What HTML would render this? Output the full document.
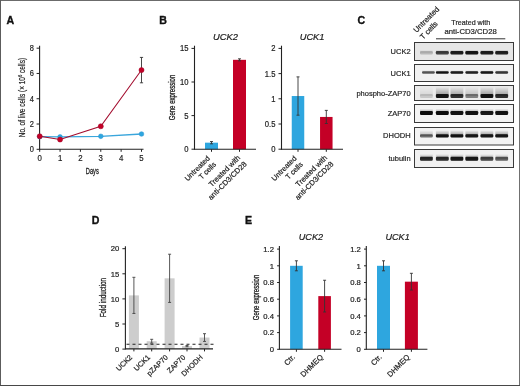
<!DOCTYPE html>
<html><head><meta charset="utf-8"><style>
html,body{margin:0;padding:0;background:#fff;}
body{width:520px;height:386px;overflow:hidden;}
svg{display:block;will-change:transform;}
text{font-family:"Liberation Sans", sans-serif;stroke:#222;stroke-width:0.2px;}
</style></head><body>
<svg width="520" height="386" viewBox="0 0 520 386">
<defs><linearGradient id="smg" x1="0" y1="0" x2="0" y2="1"><stop offset="0" stop-color="#000" stop-opacity="0"/><stop offset="1" stop-color="#000" stop-opacity="1"/></linearGradient><filter id="blur" x="-20%" y="-50%" width="140%" height="200%"><feGaussianBlur stdDeviation="0.6"/></filter><filter id="blur2" x="-20%" y="-50%" width="140%" height="200%"><feGaussianBlur stdDeviation="1"/></filter></defs>
<rect x="0" y="0" width="520" height="386" fill="#fff"/>
<text x="6.50" y="23.80" font-size="10.6" text-anchor="start" fill="#111" font-weight="bold" style="stroke:#111;stroke-width:0.35px">A</text>
<text x="159.20" y="23.70" font-size="10.6" text-anchor="start" fill="#111" font-weight="bold" style="stroke:#111;stroke-width:0.35px">B</text>
<text x="357.50" y="23.70" font-size="10.6" text-anchor="start" fill="#111" font-weight="bold" style="stroke:#111;stroke-width:0.35px">C</text>
<text x="91.70" y="224.00" font-size="10.6" text-anchor="start" fill="#111" font-weight="bold" style="stroke:#111;stroke-width:0.35px">D</text>
<text x="245.00" y="223.90" font-size="10.6" text-anchor="start" fill="#111" font-weight="bold" style="stroke:#111;stroke-width:0.35px">E</text>
<line x1="39.60" y1="45.70" x2="39.60" y2="149.80" stroke="#222" stroke-width="1.1" />
<line x1="36.60" y1="149.30" x2="39.60" y2="149.30" stroke="#222" stroke-width="1" />
<text x="0.00" y="0.00" font-size="8.9" text-anchor="end" fill="#222" transform="translate(33.90,152.15) scale(0.84,1)" >0</text>
<line x1="36.60" y1="124.02" x2="39.60" y2="124.02" stroke="#222" stroke-width="1" />
<text x="0.00" y="0.00" font-size="8.9" text-anchor="end" fill="#222" transform="translate(33.90,126.87) scale(0.84,1)" >2</text>
<line x1="36.60" y1="98.74" x2="39.60" y2="98.74" stroke="#222" stroke-width="1" />
<text x="0.00" y="0.00" font-size="8.9" text-anchor="end" fill="#222" transform="translate(33.90,101.59) scale(0.84,1)" >4</text>
<line x1="36.60" y1="73.46" x2="39.60" y2="73.46" stroke="#222" stroke-width="1" />
<text x="0.00" y="0.00" font-size="8.9" text-anchor="end" fill="#222" transform="translate(33.90,76.31) scale(0.84,1)" >6</text>
<line x1="36.60" y1="48.18" x2="39.60" y2="48.18" stroke="#222" stroke-width="1" />
<text x="0.00" y="0.00" font-size="8.9" text-anchor="end" fill="#222" transform="translate(33.90,51.03) scale(0.84,1)" >8</text>
<line x1="39.60" y1="149.30" x2="143.50" y2="149.30" stroke="#222" stroke-width="1.1" />
<line x1="39.70" y1="149.30" x2="39.70" y2="151.80" stroke="#222" stroke-width="1" />
<text x="0.00" y="0.00" font-size="8.9" text-anchor="middle" fill="#222" transform="translate(39.70,161.40) scale(0.88,1)" >0</text>
<line x1="60.06" y1="149.30" x2="60.06" y2="151.80" stroke="#222" stroke-width="1" />
<text x="0.00" y="0.00" font-size="8.9" text-anchor="middle" fill="#222" transform="translate(60.06,161.40) scale(0.88,1)" >1</text>
<line x1="80.42" y1="149.30" x2="80.42" y2="151.80" stroke="#222" stroke-width="1" />
<text x="0.00" y="0.00" font-size="8.9" text-anchor="middle" fill="#222" transform="translate(80.42,161.40) scale(0.88,1)" >2</text>
<line x1="100.78" y1="149.30" x2="100.78" y2="151.80" stroke="#222" stroke-width="1" />
<text x="0.00" y="0.00" font-size="8.9" text-anchor="middle" fill="#222" transform="translate(100.78,161.40) scale(0.88,1)" >3</text>
<line x1="121.14" y1="149.30" x2="121.14" y2="151.80" stroke="#222" stroke-width="1" />
<text x="0.00" y="0.00" font-size="8.9" text-anchor="middle" fill="#222" transform="translate(121.14,161.40) scale(0.88,1)" >4</text>
<line x1="141.50" y1="149.30" x2="141.50" y2="151.80" stroke="#222" stroke-width="1" />
<text x="0.00" y="0.00" font-size="8.9" text-anchor="middle" fill="#222" transform="translate(141.50,161.40) scale(0.88,1)" >5</text>
<text x="92.30" y="174.00" font-size="8.6" text-anchor="middle" fill="#222" textLength="13.0" lengthAdjust="spacingAndGlyphs" style="stroke-width:0.3px">Days</text>
<text x="0.00" y="0.00" font-size="8.2" text-anchor="middle" fill="#222" transform="translate(24.6,97.6) rotate(-90) scale(0.79,1)" >No. of live cells (× 10<tspan font-size="5.2" dy="-3">6</tspan><tspan dy="3"> cells)</tspan></text>
<polyline fill="none" stroke="#3aa6dc" stroke-width="1.3" points="39.70,136.66 60.06,136.91 100.78,136.28 141.50,134.01"/>
<circle cx="39.70" cy="136.66" r="2.35" fill="#2ea6df" stroke="#2a95d0" stroke-width="0.5"/>
<circle cx="60.06" cy="136.91" r="2.35" fill="#2ea6df" stroke="#2a95d0" stroke-width="0.5"/>
<circle cx="100.78" cy="136.28" r="2.35" fill="#2ea6df" stroke="#2a95d0" stroke-width="0.5"/>
<circle cx="141.50" cy="134.01" r="2.35" fill="#2ea6df" stroke="#2a95d0" stroke-width="0.5"/>
<line x1="141.50" y1="57.41" x2="141.50" y2="82.81" stroke="#333" stroke-width="0.9" />
<line x1="139.90" y1="57.41" x2="143.10" y2="57.41" stroke="#333" stroke-width="0.9" />
<line x1="139.90" y1="82.81" x2="143.10" y2="82.81" stroke="#333" stroke-width="0.9" />
<polyline fill="none" stroke="#a30c2e" stroke-width="1.05" points="39.70,136.28 60.06,139.57 100.78,126.30 141.50,70.05"/>
<circle cx="39.70" cy="136.28" r="2.55" fill="#c40026" stroke="#a30c2e" stroke-width="0.5"/>
<circle cx="60.06" cy="139.57" r="2.55" fill="#c40026" stroke="#a30c2e" stroke-width="0.5"/>
<circle cx="100.78" cy="126.30" r="2.55" fill="#c40026" stroke="#a30c2e" stroke-width="0.5"/>
<circle cx="141.50" cy="70.05" r="2.55" fill="#c40026" stroke="#a30c2e" stroke-width="0.5"/>
<rect x="205.00" y="142.68" width="13.00" height="6.62" fill="#2ea6df" />
<line x1="211.50" y1="141.54" x2="211.50" y2="143.82" stroke="#333" stroke-width="0.9" />
<line x1="210.00" y1="141.54" x2="213.00" y2="141.54" stroke="#333" stroke-width="0.9" />
<line x1="210.00" y1="143.82" x2="213.00" y2="143.82" stroke="#333" stroke-width="0.9" />
<line x1="211.50" y1="149.30" x2="211.50" y2="151.80" stroke="#222" stroke-width="1" />
<rect x="233.00" y="59.82" width="13.00" height="89.48" fill="#c40026" />
<line x1="239.50" y1="58.82" x2="239.50" y2="60.83" stroke="#333" stroke-width="0.9" />
<line x1="238.00" y1="58.82" x2="241.00" y2="58.82" stroke="#333" stroke-width="0.9" />
<line x1="238.00" y1="60.83" x2="241.00" y2="60.83" stroke="#333" stroke-width="0.9" />
<line x1="239.50" y1="149.30" x2="239.50" y2="151.80" stroke="#222" stroke-width="1" />
<line x1="194.50" y1="45.70" x2="194.50" y2="149.80" stroke="#222" stroke-width="1.1" />
<line x1="191.50" y1="149.20" x2="194.50" y2="149.20" stroke="#222" stroke-width="1" />
<text x="0.00" y="0.00" font-size="8.5" text-anchor="end" fill="#222" transform="translate(188.60,152.26) scale(0.9,1)" >0</text>
<line x1="191.50" y1="115.60" x2="194.50" y2="115.60" stroke="#222" stroke-width="1" />
<text x="0.00" y="0.00" font-size="8.5" text-anchor="end" fill="#222" transform="translate(188.60,118.66) scale(0.9,1)" >5</text>
<line x1="191.50" y1="82.00" x2="194.50" y2="82.00" stroke="#222" stroke-width="1" />
<text x="0.00" y="0.00" font-size="8.5" text-anchor="end" fill="#222" transform="translate(188.60,85.06) scale(0.9,1)" >10</text>
<line x1="191.50" y1="48.40" x2="194.50" y2="48.40" stroke="#222" stroke-width="1" />
<text x="0.00" y="0.00" font-size="8.5" text-anchor="end" fill="#222" transform="translate(188.60,51.46) scale(0.9,1)" >15</text>
<line x1="194.50" y1="149.30" x2="256.00" y2="149.30" stroke="#222" stroke-width="1.1" />
<text x="225.50" y="40.10" font-size="8.5" text-anchor="middle" fill="#222" textLength="25.0" lengthAdjust="spacingAndGlyphs" font-style="italic" >UCK2</text>
<rect x="291.75" y="96.03" width="12.50" height="53.27" fill="#2ea6df" />
<line x1="298.00" y1="76.88" x2="298.00" y2="115.18" stroke="#333" stroke-width="0.9" />
<line x1="296.50" y1="76.88" x2="299.50" y2="76.88" stroke="#333" stroke-width="0.9" />
<line x1="296.50" y1="115.18" x2="299.50" y2="115.18" stroke="#333" stroke-width="0.9" />
<line x1="298.00" y1="149.30" x2="298.00" y2="151.80" stroke="#222" stroke-width="1" />
<rect x="320.05" y="116.94" width="12.50" height="32.36" fill="#c40026" />
<line x1="326.30" y1="110.39" x2="326.30" y2="123.50" stroke="#333" stroke-width="0.9" />
<line x1="324.80" y1="110.39" x2="327.80" y2="110.39" stroke="#333" stroke-width="0.9" />
<line x1="324.80" y1="123.50" x2="327.80" y2="123.50" stroke="#333" stroke-width="0.9" />
<line x1="326.30" y1="149.30" x2="326.30" y2="151.80" stroke="#222" stroke-width="1" />
<line x1="281.50" y1="45.70" x2="281.50" y2="149.80" stroke="#222" stroke-width="1.1" />
<line x1="278.50" y1="149.20" x2="281.50" y2="149.20" stroke="#222" stroke-width="1" />
<text x="0.00" y="0.00" font-size="8.5" text-anchor="end" fill="#222" transform="translate(275.40,152.26) scale(0.9,1)" >0</text>
<line x1="278.50" y1="124.00" x2="281.50" y2="124.00" stroke="#222" stroke-width="1" />
<text x="0.00" y="0.00" font-size="8.5" text-anchor="end" fill="#222" transform="translate(275.40,127.06) scale(0.9,1)" >0.5</text>
<line x1="278.50" y1="98.80" x2="281.50" y2="98.80" stroke="#222" stroke-width="1" />
<text x="0.00" y="0.00" font-size="8.5" text-anchor="end" fill="#222" transform="translate(275.40,101.86) scale(0.9,1)" >1</text>
<line x1="278.50" y1="73.60" x2="281.50" y2="73.60" stroke="#222" stroke-width="1" />
<text x="0.00" y="0.00" font-size="8.5" text-anchor="end" fill="#222" transform="translate(275.40,76.66) scale(0.9,1)" >1.5</text>
<line x1="278.50" y1="48.40" x2="281.50" y2="48.40" stroke="#222" stroke-width="1" />
<text x="0.00" y="0.00" font-size="8.5" text-anchor="end" fill="#222" transform="translate(275.40,51.46) scale(0.9,1)" >2</text>
<line x1="281.50" y1="149.30" x2="343.00" y2="149.30" stroke="#222" stroke-width="1.1" />
<text x="312.10" y="40.10" font-size="8.5" text-anchor="middle" fill="#222" textLength="24.8" lengthAdjust="spacingAndGlyphs" font-style="italic" >UCK1</text>
<text x="0.00" y="0.00" font-size="8.8" text-anchor="middle" fill="#222" textLength="45.6" lengthAdjust="spacingAndGlyphs" transform="translate(174.7,97.5) rotate(-90)" style="stroke-width:0.3px">Gene expression</text>
<text transform="translate(210.30,158.80) rotate(-45)" font-size="7.3" text-anchor="end" fill="#222"><tspan x="0" y="0.00">Untreated</tspan><tspan x="0" y="8.80">T cells</tspan></text>
<text transform="translate(297.10,158.80) rotate(-45)" font-size="7.3" text-anchor="end" fill="#222"><tspan x="0" y="0.00">Untreated</tspan><tspan x="0" y="8.80">T cells</tspan></text>
<text transform="translate(240.80,158.20) rotate(-45)" font-size="7.5" text-anchor="end" fill="#222"><tspan x="0" y="0.00">Treated with</tspan><tspan x="0" y="8.90">anti-CD3/CD28</tspan></text>
<text transform="translate(327.60,158.20) rotate(-45)" font-size="7.5" text-anchor="end" fill="#222"><tspan x="0" y="0.00">Treated with</tspan><tspan x="0" y="8.90">anti-CD3/CD28</tspan></text>
<rect x="414.50" y="42.50" width="99.00" height="18.00" fill="#e6e6e6" stroke="#3a3a3a" stroke-width="1"/>
<text x="410.60" y="53.80" font-size="7.5" text-anchor="end" fill="#2a2a2a" >UCK2</text>
<rect x="420.00" y="49.50" width="12.8" height="3.30" fill="url(#smg)" fill-opacity="0.10" filter="url(#blur)"/>
<rect x="420.00" y="51.10" width="12.8" height="3.40" rx="1.2" fill="#0a0a0a" fill-opacity="0.20" filter="url(#blur)"/>
<rect x="435.90" y="49.50" width="12.8" height="3.30" fill="url(#smg)" fill-opacity="0.27" filter="url(#blur)"/>
<rect x="435.90" y="51.10" width="12.8" height="3.40" rx="1.2" fill="#0a0a0a" fill-opacity="0.76" filter="url(#blur)"/>
<rect x="450.50" y="49.50" width="12.8" height="3.30" fill="url(#smg)" fill-opacity="0.32" filter="url(#blur)"/>
<rect x="450.50" y="51.10" width="12.8" height="3.40" rx="1.2" fill="#0a0a0a" fill-opacity="0.93" filter="url(#blur)"/>
<rect x="465.40" y="49.50" width="12.8" height="3.30" fill="url(#smg)" fill-opacity="0.33" filter="url(#blur)"/>
<rect x="465.40" y="51.10" width="12.8" height="3.40" rx="1.2" fill="#0a0a0a" fill-opacity="0.97" filter="url(#blur)"/>
<rect x="480.50" y="49.50" width="12.8" height="3.30" fill="url(#smg)" fill-opacity="0.32" filter="url(#blur)"/>
<rect x="480.50" y="51.10" width="12.8" height="3.40" rx="1.2" fill="#0a0a0a" fill-opacity="0.92" filter="url(#blur)"/>
<rect x="495.30" y="49.50" width="12.8" height="3.30" fill="url(#smg)" fill-opacity="0.31" filter="url(#blur)"/>
<rect x="495.30" y="51.10" width="12.8" height="3.40" rx="1.2" fill="#0a0a0a" fill-opacity="0.90" filter="url(#blur)"/>
<rect x="414.50" y="64.50" width="99.00" height="17.00" fill="#f1f1f1" stroke="#3a3a3a" stroke-width="1"/>
<text x="410.60" y="75.70" font-size="7.5" text-anchor="end" fill="#2a2a2a" >UCK1</text>
<rect x="422.00" y="70.00" width="12.8" height="2.50" fill="url(#smg)" fill-opacity="0.16" filter="url(#blur)"/>
<rect x="422.00" y="71.25" width="12.8" height="2.50" rx="1.2" fill="#0a0a0a" fill-opacity="0.62" filter="url(#blur)"/>
<rect x="435.90" y="70.00" width="12.8" height="2.50" fill="url(#smg)" fill-opacity="0.23" filter="url(#blur)"/>
<rect x="435.90" y="71.25" width="12.8" height="2.50" rx="1.2" fill="#0a0a0a" fill-opacity="0.97" filter="url(#blur)"/>
<rect x="450.50" y="70.00" width="12.8" height="2.50" fill="url(#smg)" fill-opacity="0.23" filter="url(#blur)"/>
<rect x="450.50" y="71.25" width="12.8" height="2.50" rx="1.2" fill="#0a0a0a" fill-opacity="0.93" filter="url(#blur)"/>
<rect x="465.40" y="70.00" width="12.8" height="2.50" fill="url(#smg)" fill-opacity="0.22" filter="url(#blur)"/>
<rect x="465.40" y="71.25" width="12.8" height="2.50" rx="1.2" fill="#0a0a0a" fill-opacity="0.90" filter="url(#blur)"/>
<rect x="480.50" y="70.00" width="12.8" height="2.50" fill="url(#smg)" fill-opacity="0.23" filter="url(#blur)"/>
<rect x="480.50" y="71.25" width="12.8" height="2.50" rx="1.2" fill="#0a0a0a" fill-opacity="0.95" filter="url(#blur)"/>
<rect x="495.30" y="70.00" width="12.8" height="2.50" fill="url(#smg)" fill-opacity="0.20" filter="url(#blur)"/>
<rect x="495.30" y="71.25" width="12.8" height="2.50" rx="1.2" fill="#0a0a0a" fill-opacity="0.80" filter="url(#blur)"/>
<rect x="414.50" y="85.50" width="99.00" height="15.00" fill="#ebebeb" stroke="#3a3a3a" stroke-width="1"/>
<text x="410.60" y="95.60" font-size="7.5" text-anchor="end" fill="#2a2a2a" >phospho-ZAP70</text>
<rect x="420.00" y="86.80" width="12.8" height="9.10" fill="url(#smg)" fill-opacity="0.09" filter="url(#blur)"/>
<rect x="420.00" y="93.90" width="12.8" height="4.00" rx="1.2" fill="#0a0a0a" fill-opacity="0.15" filter="url(#blur)"/>
<rect x="435.90" y="86.80" width="12.8" height="9.10" fill="url(#smg)" fill-opacity="0.38" filter="url(#blur)"/>
<rect x="435.90" y="93.90" width="12.8" height="4.00" rx="1.2" fill="#0a0a0a" fill-opacity="0.97" filter="url(#blur)"/>
<rect x="450.50" y="86.80" width="12.8" height="9.10" fill="url(#smg)" fill-opacity="0.34" filter="url(#blur)"/>
<rect x="450.50" y="93.90" width="12.8" height="4.00" rx="1.2" fill="#0a0a0a" fill-opacity="0.85" filter="url(#blur)"/>
<rect x="465.40" y="86.80" width="12.8" height="9.10" fill="url(#smg)" fill-opacity="0.20" filter="url(#blur)"/>
<rect x="465.40" y="93.90" width="12.8" height="4.00" rx="1.2" fill="#0a0a0a" fill-opacity="0.45" filter="url(#blur)"/>
<rect x="480.50" y="86.80" width="12.8" height="9.10" fill="url(#smg)" fill-opacity="0.38" filter="url(#blur)"/>
<rect x="480.50" y="93.90" width="12.8" height="4.00" rx="1.2" fill="#0a0a0a" fill-opacity="0.98" filter="url(#blur)"/>
<rect x="495.30" y="86.80" width="12.8" height="9.10" fill="url(#smg)" fill-opacity="0.34" filter="url(#blur)"/>
<rect x="495.30" y="93.90" width="12.8" height="4.00" rx="1.2" fill="#0a0a0a" fill-opacity="0.85" filter="url(#blur)"/>
<rect x="414.50" y="104.50" width="99.00" height="18.00" fill="#f4f4f4" stroke="#3a3a3a" stroke-width="1"/>
<text x="410.60" y="116.30" font-size="7.5" text-anchor="end" fill="#2a2a2a" >ZAP70</text>
<rect x="420.00" y="108.60" width="12.8" height="4.40" fill="url(#smg)" fill-opacity="0.39" filter="url(#blur)"/>
<rect x="420.00" y="111.10" width="12.8" height="3.80" rx="1.2" fill="#0a0a0a" fill-opacity="1.00" filter="url(#blur)"/>
<rect x="435.90" y="108.60" width="12.8" height="4.40" fill="url(#smg)" fill-opacity="0.39" filter="url(#blur)"/>
<rect x="435.90" y="111.10" width="12.8" height="3.80" rx="1.2" fill="#0a0a0a" fill-opacity="1.00" filter="url(#blur)"/>
<rect x="450.50" y="108.60" width="12.8" height="4.40" fill="url(#smg)" fill-opacity="0.38" filter="url(#blur)"/>
<rect x="450.50" y="111.10" width="12.8" height="3.80" rx="1.2" fill="#0a0a0a" fill-opacity="0.97" filter="url(#blur)"/>
<rect x="465.40" y="108.60" width="12.8" height="4.40" fill="url(#smg)" fill-opacity="0.38" filter="url(#blur)"/>
<rect x="465.40" y="111.10" width="12.8" height="3.80" rx="1.2" fill="#0a0a0a" fill-opacity="0.97" filter="url(#blur)"/>
<rect x="480.50" y="108.60" width="12.8" height="4.40" fill="url(#smg)" fill-opacity="0.37" filter="url(#blur)"/>
<rect x="480.50" y="111.10" width="12.8" height="3.80" rx="1.2" fill="#0a0a0a" fill-opacity="0.95" filter="url(#blur)"/>
<rect x="495.30" y="108.60" width="12.8" height="4.40" fill="url(#smg)" fill-opacity="0.38" filter="url(#blur)"/>
<rect x="495.30" y="111.10" width="12.8" height="3.80" rx="1.2" fill="#0a0a0a" fill-opacity="0.97" filter="url(#blur)"/>
<rect x="414.50" y="127.50" width="99.00" height="17.50" fill="#f3f3f3" stroke="#3a3a3a" stroke-width="1"/>
<text x="410.60" y="138.40" font-size="7.5" text-anchor="end" fill="#2a2a2a" >DHODH</text>
<rect x="420.00" y="130.20" width="12.8" height="5.70" fill="url(#smg)" fill-opacity="0.26" filter="url(#blur)"/>
<rect x="420.00" y="134.25" width="12.8" height="3.30" rx="1.2" fill="#0a0a0a" fill-opacity="0.55" filter="url(#blur)"/>
<rect x="435.90" y="130.20" width="12.8" height="5.70" fill="url(#smg)" fill-opacity="0.43" filter="url(#blur)"/>
<rect x="435.90" y="134.25" width="12.8" height="3.30" rx="1.2" fill="#0a0a0a" fill-opacity="0.97" filter="url(#blur)"/>
<rect x="450.50" y="130.20" width="12.8" height="5.70" fill="url(#smg)" fill-opacity="0.43" filter="url(#blur)"/>
<rect x="450.50" y="134.25" width="12.8" height="3.30" rx="1.2" fill="#0a0a0a" fill-opacity="0.97" filter="url(#blur)"/>
<rect x="465.40" y="130.20" width="12.8" height="5.70" fill="url(#smg)" fill-opacity="0.42" filter="url(#blur)"/>
<rect x="465.40" y="134.25" width="12.8" height="3.30" rx="1.2" fill="#0a0a0a" fill-opacity="0.95" filter="url(#blur)"/>
<rect x="480.50" y="130.20" width="12.8" height="5.70" fill="url(#smg)" fill-opacity="0.42" filter="url(#blur)"/>
<rect x="480.50" y="134.25" width="12.8" height="3.30" rx="1.2" fill="#0a0a0a" fill-opacity="0.95" filter="url(#blur)"/>
<rect x="495.30" y="130.20" width="12.8" height="5.70" fill="url(#smg)" fill-opacity="0.42" filter="url(#blur)"/>
<rect x="495.30" y="134.25" width="12.8" height="3.30" rx="1.2" fill="#0a0a0a" fill-opacity="0.95" filter="url(#blur)"/>
<rect x="414.50" y="149.50" width="99.00" height="18.00" fill="#f1f1f1" stroke="#3a3a3a" stroke-width="1"/>
<text x="410.60" y="160.70" font-size="7.5" text-anchor="end" fill="#2a2a2a" >tubulin</text>
<rect x="420.00" y="154.00" width="12.8" height="4.70" fill="url(#smg)" fill-opacity="0.35" filter="url(#blur)"/>
<rect x="420.00" y="156.70" width="12.8" height="4.00" rx="1.2" fill="#0a0a0a" fill-opacity="0.88" filter="url(#blur)"/>
<rect x="435.90" y="154.00" width="12.8" height="4.70" fill="url(#smg)" fill-opacity="0.34" filter="url(#blur)"/>
<rect x="435.90" y="156.70" width="12.8" height="4.00" rx="1.2" fill="#0a0a0a" fill-opacity="0.85" filter="url(#blur)"/>
<rect x="450.50" y="154.00" width="12.8" height="4.70" fill="url(#smg)" fill-opacity="0.37" filter="url(#blur)"/>
<rect x="450.50" y="156.70" width="12.8" height="4.00" rx="1.2" fill="#0a0a0a" fill-opacity="0.95" filter="url(#blur)"/>
<rect x="465.40" y="154.00" width="12.8" height="4.70" fill="url(#smg)" fill-opacity="0.37" filter="url(#blur)"/>
<rect x="465.40" y="156.70" width="12.8" height="4.00" rx="1.2" fill="#0a0a0a" fill-opacity="0.95" filter="url(#blur)"/>
<rect x="480.50" y="154.00" width="12.8" height="4.70" fill="url(#smg)" fill-opacity="0.30" filter="url(#blur)"/>
<rect x="480.50" y="156.70" width="12.8" height="4.00" rx="1.2" fill="#0a0a0a" fill-opacity="0.75" filter="url(#blur)"/>
<rect x="495.30" y="154.00" width="12.8" height="4.70" fill="url(#smg)" fill-opacity="0.25" filter="url(#blur)"/>
<rect x="495.30" y="156.70" width="12.8" height="4.00" rx="1.2" fill="#0a0a0a" fill-opacity="0.60" filter="url(#blur)"/>
<text transform="translate(416.40,33.00) rotate(-45)" font-size="7.5" text-anchor="start" fill="#222"><tspan x="0" y="0.00">Untreated</tspan><tspan x="0" y="9.40">T cells</tspan></text>
<text x="470.80" y="24.60" font-size="7.4" text-anchor="middle" fill="#2a2a2a" textLength="38.9" lengthAdjust="spacingAndGlyphs" >Treated with</text>
<text x="470.60" y="34.00" font-size="7.4" text-anchor="middle" fill="#2a2a2a" textLength="52.3" lengthAdjust="spacingAndGlyphs" >anti-CD3/CD28</text>
<line x1="436.00" y1="38.80" x2="505.30" y2="38.80" stroke="#333" stroke-width="1" />
<line x1="125.40" y1="246.20" x2="125.40" y2="349.40" stroke="#222" stroke-width="1.1" />
<line x1="122.40" y1="349.10" x2="125.40" y2="349.10" stroke="#222" stroke-width="1" />
<text x="119.20" y="351.87" font-size="7.7" text-anchor="end" fill="#222" >0</text>
<line x1="122.40" y1="324.00" x2="125.40" y2="324.00" stroke="#222" stroke-width="1" />
<text x="119.20" y="326.77" font-size="7.7" text-anchor="end" fill="#222" >5</text>
<line x1="122.40" y1="298.90" x2="125.40" y2="298.90" stroke="#222" stroke-width="1" />
<text x="119.20" y="301.67" font-size="7.7" text-anchor="end" fill="#222" >10</text>
<line x1="122.40" y1="273.80" x2="125.40" y2="273.80" stroke="#222" stroke-width="1" />
<text x="119.20" y="276.57" font-size="7.7" text-anchor="end" fill="#222" >15</text>
<line x1="122.40" y1="248.70" x2="125.40" y2="248.70" stroke="#222" stroke-width="1" />
<text x="119.20" y="251.47" font-size="7.7" text-anchor="end" fill="#222" >20</text>
<rect x="128.90" y="295.39" width="10.00" height="53.51" fill="#cdcdcd" />
<rect x="146.70" y="341.22" width="10.00" height="7.68" fill="#cdcdcd" />
<rect x="164.60" y="278.32" width="10.00" height="70.58" fill="#cdcdcd" />
<rect x="182.00" y="346.09" width="10.00" height="2.81" fill="#cdcdcd" />
<rect x="199.50" y="337.55" width="10.00" height="11.35" fill="#cdcdcd" />
<line x1="133.90" y1="277.31" x2="133.90" y2="313.46" stroke="#444" stroke-width="0.9" />
<line x1="132.40" y1="277.31" x2="135.40" y2="277.31" stroke="#444" stroke-width="0.9" />
<line x1="132.40" y1="313.46" x2="135.40" y2="313.46" stroke="#444" stroke-width="0.9" />
<line x1="133.90" y1="348.90" x2="133.90" y2="351.40" stroke="#222" stroke-width="1" />
<line x1="151.70" y1="339.31" x2="151.70" y2="343.13" stroke="#444" stroke-width="0.9" />
<line x1="150.20" y1="339.31" x2="153.20" y2="339.31" stroke="#444" stroke-width="0.9" />
<line x1="150.20" y1="343.13" x2="153.20" y2="343.13" stroke="#444" stroke-width="0.9" />
<line x1="151.70" y1="348.90" x2="151.70" y2="351.40" stroke="#222" stroke-width="1" />
<line x1="169.60" y1="254.22" x2="169.60" y2="302.41" stroke="#444" stroke-width="0.9" />
<line x1="168.10" y1="254.22" x2="171.10" y2="254.22" stroke="#444" stroke-width="0.9" />
<line x1="168.10" y1="302.41" x2="171.10" y2="302.41" stroke="#444" stroke-width="0.9" />
<line x1="169.60" y1="348.90" x2="169.60" y2="351.40" stroke="#222" stroke-width="1" />
<line x1="187.00" y1="345.49" x2="187.00" y2="346.69" stroke="#444" stroke-width="0.9" />
<line x1="185.50" y1="345.49" x2="188.50" y2="345.49" stroke="#444" stroke-width="0.9" />
<line x1="185.50" y1="346.69" x2="188.50" y2="346.69" stroke="#444" stroke-width="0.9" />
<line x1="187.00" y1="348.90" x2="187.00" y2="351.40" stroke="#222" stroke-width="1" />
<line x1="204.50" y1="333.69" x2="204.50" y2="341.42" stroke="#444" stroke-width="0.9" />
<line x1="203.00" y1="333.69" x2="206.00" y2="333.69" stroke="#444" stroke-width="0.9" />
<line x1="203.00" y1="341.42" x2="206.00" y2="341.42" stroke="#444" stroke-width="0.9" />
<line x1="204.50" y1="348.90" x2="204.50" y2="351.40" stroke="#222" stroke-width="1" />
<line x1="126.50" y1="344.30" x2="213.50" y2="344.30" stroke="#222" stroke-width="1.1" stroke-dasharray="3,3"/>
<line x1="125.40" y1="348.90" x2="213.00" y2="348.90" stroke="#222" stroke-width="1.1" />
<text x="0.00" y="0.00" font-size="8.8" text-anchor="middle" fill="#222" textLength="39.3" lengthAdjust="spacingAndGlyphs" transform="translate(105.6,297.6) rotate(-90)" style="stroke-width:0.3px">Fold induction</text>
<text transform="translate(132.70,357.80) rotate(-45)" font-size="7.3" text-anchor="end" fill="#222"><tspan x="0" y="0.00">UCK2</tspan></text>
<text transform="translate(150.50,357.80) rotate(-45)" font-size="7.3" text-anchor="end" fill="#222"><tspan x="0" y="0.00">UCK1</tspan></text>
<text transform="translate(168.40,357.80) rotate(-45)" font-size="7.3" text-anchor="end" fill="#222"><tspan x="0" y="0.00">pZAP70</tspan></text>
<text transform="translate(185.80,357.80) rotate(-45)" font-size="7.3" text-anchor="end" fill="#222"><tspan x="0" y="0.00">ZAP70</tspan></text>
<text transform="translate(203.30,357.80) rotate(-45)" font-size="7.3" text-anchor="end" fill="#222"><tspan x="0" y="0.00">DHODH</tspan></text>
<rect x="290.10" y="265.80" width="12.60" height="83.50" fill="#2ea6df" />
<line x1="296.40" y1="260.79" x2="296.40" y2="270.81" stroke="#333" stroke-width="0.9" />
<line x1="294.90" y1="260.79" x2="297.90" y2="260.79" stroke="#333" stroke-width="0.9" />
<line x1="294.90" y1="270.81" x2="297.90" y2="270.81" stroke="#333" stroke-width="0.9" />
<line x1="296.40" y1="349.30" x2="296.40" y2="351.80" stroke="#222" stroke-width="1" />
<rect x="318.30" y="296.11" width="12.60" height="53.19" fill="#c40026" />
<line x1="324.60" y1="280.25" x2="324.60" y2="311.98" stroke="#333" stroke-width="0.9" />
<line x1="323.10" y1="280.25" x2="326.10" y2="280.25" stroke="#333" stroke-width="0.9" />
<line x1="323.10" y1="311.98" x2="326.10" y2="311.98" stroke="#333" stroke-width="0.9" />
<line x1="324.60" y1="349.30" x2="324.60" y2="351.80" stroke="#222" stroke-width="1" />
<line x1="279.40" y1="246.00" x2="279.40" y2="349.80" stroke="#222" stroke-width="1.1" />
<line x1="277.10" y1="349.30" x2="279.40" y2="349.30" stroke="#222" stroke-width="1" />
<text x="274.00" y="352.07" font-size="7.7" text-anchor="end" fill="#222" >0</text>
<line x1="277.10" y1="332.60" x2="279.40" y2="332.60" stroke="#222" stroke-width="1" />
<text x="274.00" y="335.37" font-size="7.7" text-anchor="end" fill="#222" >0.2</text>
<line x1="277.10" y1="315.90" x2="279.40" y2="315.90" stroke="#222" stroke-width="1" />
<text x="274.00" y="318.67" font-size="7.7" text-anchor="end" fill="#222" >0.4</text>
<line x1="277.10" y1="299.20" x2="279.40" y2="299.20" stroke="#222" stroke-width="1" />
<text x="274.00" y="301.97" font-size="7.7" text-anchor="end" fill="#222" >0.6</text>
<line x1="277.10" y1="282.50" x2="279.40" y2="282.50" stroke="#222" stroke-width="1" />
<text x="274.00" y="285.27" font-size="7.7" text-anchor="end" fill="#222" >0.8</text>
<line x1="277.10" y1="265.80" x2="279.40" y2="265.80" stroke="#222" stroke-width="1" />
<text x="274.00" y="268.57" font-size="7.7" text-anchor="end" fill="#222" >1</text>
<line x1="277.10" y1="249.10" x2="279.40" y2="249.10" stroke="#222" stroke-width="1" />
<text x="274.00" y="251.87" font-size="7.7" text-anchor="end" fill="#222" >1.2</text>
<line x1="279.40" y1="349.30" x2="341.50" y2="349.30" stroke="#222" stroke-width="1.1" />
<text x="310.90" y="240.40" font-size="8.5" text-anchor="middle" fill="#222" textLength="24.3" lengthAdjust="spacingAndGlyphs" font-style="italic" >UCK2</text>
<rect x="377.00" y="265.80" width="13.00" height="83.50" fill="#2ea6df" />
<line x1="383.50" y1="260.79" x2="383.50" y2="270.81" stroke="#333" stroke-width="0.9" />
<line x1="382.00" y1="260.79" x2="385.00" y2="260.79" stroke="#333" stroke-width="0.9" />
<line x1="382.00" y1="270.81" x2="385.00" y2="270.81" stroke="#333" stroke-width="0.9" />
<line x1="383.50" y1="349.30" x2="383.50" y2="351.80" stroke="#222" stroke-width="1" />
<rect x="404.90" y="281.67" width="13.00" height="67.63" fill="#c40026" />
<line x1="411.40" y1="273.31" x2="411.40" y2="290.01" stroke="#333" stroke-width="0.9" />
<line x1="409.90" y1="273.31" x2="412.90" y2="273.31" stroke="#333" stroke-width="0.9" />
<line x1="409.90" y1="290.01" x2="412.90" y2="290.01" stroke="#333" stroke-width="0.9" />
<line x1="411.40" y1="349.30" x2="411.40" y2="351.80" stroke="#222" stroke-width="1" />
<line x1="366.30" y1="246.00" x2="366.30" y2="349.80" stroke="#222" stroke-width="1.1" />
<line x1="364.00" y1="349.30" x2="366.30" y2="349.30" stroke="#222" stroke-width="1" />
<text x="360.90" y="352.07" font-size="7.7" text-anchor="end" fill="#222" >0</text>
<line x1="364.00" y1="332.60" x2="366.30" y2="332.60" stroke="#222" stroke-width="1" />
<text x="360.90" y="335.37" font-size="7.7" text-anchor="end" fill="#222" >0.2</text>
<line x1="364.00" y1="315.90" x2="366.30" y2="315.90" stroke="#222" stroke-width="1" />
<text x="360.90" y="318.67" font-size="7.7" text-anchor="end" fill="#222" >0.4</text>
<line x1="364.00" y1="299.20" x2="366.30" y2="299.20" stroke="#222" stroke-width="1" />
<text x="360.90" y="301.97" font-size="7.7" text-anchor="end" fill="#222" >0.6</text>
<line x1="364.00" y1="282.50" x2="366.30" y2="282.50" stroke="#222" stroke-width="1" />
<text x="360.90" y="285.27" font-size="7.7" text-anchor="end" fill="#222" >0.8</text>
<line x1="364.00" y1="265.80" x2="366.30" y2="265.80" stroke="#222" stroke-width="1" />
<text x="360.90" y="268.57" font-size="7.7" text-anchor="end" fill="#222" >1</text>
<line x1="364.00" y1="249.10" x2="366.30" y2="249.10" stroke="#222" stroke-width="1" />
<text x="360.90" y="251.87" font-size="7.7" text-anchor="end" fill="#222" >1.2</text>
<line x1="366.30" y1="349.30" x2="427.40" y2="349.30" stroke="#222" stroke-width="1.1" />
<text x="397.60" y="240.40" font-size="8.5" text-anchor="middle" fill="#222" textLength="24.3" lengthAdjust="spacingAndGlyphs" font-style="italic" >UCK1</text>
<text x="0.00" y="0.00" font-size="8.8" text-anchor="middle" fill="#222" textLength="45.6" lengthAdjust="spacingAndGlyphs" transform="translate(258.8,297.5) rotate(-90)" style="stroke-width:0.3px">Gene expression</text>
<text transform="translate(295.50,357.60) rotate(-45)" font-size="7.6" text-anchor="end" fill="#222"><tspan x="0" y="0.00">Ctr.</tspan></text>
<text transform="translate(382.30,357.60) rotate(-45)" font-size="7.6" text-anchor="end" fill="#222"><tspan x="0" y="0.00">Ctr.</tspan></text>
<text transform="translate(323.60,357.60) rotate(-45)" font-size="7.6" text-anchor="end" fill="#222"><tspan x="0" y="0.00">DHMEQ</tspan></text>
<text transform="translate(410.30,357.60) rotate(-45)" font-size="7.6" text-anchor="end" fill="#222"><tspan x="0" y="0.00">DHMEQ</tspan></text>
<line x1="0" y1="0.5" x2="520" y2="0.5" stroke="#6b6b6b" stroke-width="1"/><line x1="519.5" y1="0" x2="519.5" y2="386" stroke="#707070" stroke-width="1"/><line x1="0.5" y1="0" x2="0.5" y2="386" stroke="#5c5c5c" stroke-width="1"/><line x1="0" y1="385.5" x2="520" y2="385.5" stroke="#484848" stroke-width="1"/>
</svg>
</body></html>
